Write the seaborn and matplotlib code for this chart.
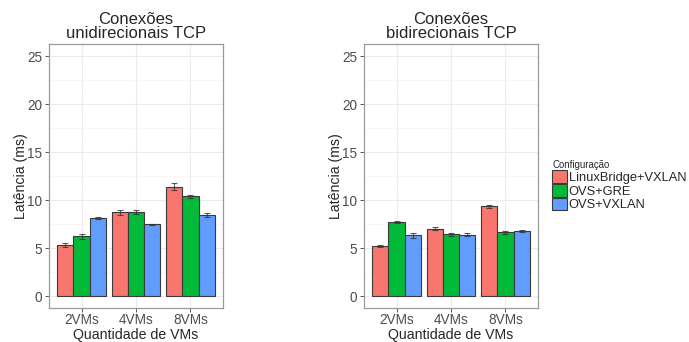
import matplotlib
matplotlib.use("Agg")
import matplotlib.pyplot as plt
from matplotlib.patches import Patch
from matplotlib.ticker import MultipleLocator
import seaborn as sns
import numpy as np
import pandas as pd

# data
vms = ["2VMs", "4VMs", "8VMs"]
configs = ["LinuxBridge+VXLAN", "OVS+GRE", "OVS+VXLAN"]
colors = ["#F8766D", "#00BA38", "#619CFF"]

uni_mean = {"LinuxBridge+VXLAN": [5.3, 8.7, 11.37],
            "OVS+GRE": [6.22, 8.72, 10.37],
            "OVS+VXLAN": [8.12, 7.45, 8.43]}
uni_err = {"LinuxBridge+VXLAN": [0.2, 0.3, 0.35],
           "OVS+GRE": [0.25, 0.2, 0.15],
           "OVS+VXLAN": [0.15, 0.1, 0.2]}

bi_mean = {"LinuxBridge+VXLAN": [5.23, 7.03, 9.33],
           "OVS+GRE": [7.72, 6.42, 6.63],
           "OVS+VXLAN": [6.33, 6.4, 6.76]}
bi_err = {"LinuxBridge+VXLAN": [0.1, 0.12, 0.18],
          "OVS+GRE": [0.12, 0.12, 0.12],
          "OVS+VXLAN": [0.25, 0.15, 0.07]}

titles = ["Conexões\nunidirecionais TCP", "Conexões\nbidirecionais TCP"]

sns.set_style("white")
plt.rcParams['font.family'] = ['Liberation Sans', 'DejaVu Sans']


def to_frame(means, errs):
    rows = []
    for c in configs:
        for v, m, e in zip(vms, means[c], errs[c]):
            rows.append({"vms": v, "config": c, "lat": m, "err": e})
    return pd.DataFrame(rows)


fig = plt.figure(figsize=(6.89, 3.42), dpi=100)
ax1 = fig.add_axes([49 / 689, 1 - 308 / 342, 174 / 689, 264 / 342])
ax2 = fig.add_axes([364 / 689, 1 - 308 / 342, 174 / 689, 264 / 342])

for ax, means, errs, title in [(ax1, uni_mean, uni_err, titles[0]),
                               (ax2, bi_mean, bi_err, titles[1])]:
    df = to_frame(means, errs)
    sns.barplot(data=df, x="vms", y="lat", hue="config", hue_order=configs,
                order=vms, palette=colors, saturation=1, width=0.9,
                errorbar=None, edgecolor="#3a3a3a", linewidth=0.8, ax=ax,
                zorder=2, legend=False)
    # error bars at the center of each bar
    for container, c in zip(ax.containers, configs):
        xs = [p.get_x() + p.get_width() / 2 for p in container]
        sub = df[df.config == c]
        ax.errorbar(xs, sub["lat"], yerr=sub["err"], fmt="none",
                    ecolor="#333333", elinewidth=0.8, capsize=2.2,
                    capthick=0.8, zorder=3, alpha=0.8)

    ax.set_xlim(-0.6, 2.6)
    ax.set_ylim(-1.25, 26.25)
    ax.yaxis.set_major_locator(MultipleLocator(5))
    ax.yaxis.set_minor_locator(MultipleLocator(2.5))
    ax.grid(True, which="major", color="#EBEBEB", lw=0.8, zorder=0)
    ax.grid(True, which="minor", axis="y", color="#F4F4F4", lw=0.5, zorder=0)
    ax.set_axisbelow(True)
    for s in ax.spines.values():
        s.set_color("#9A9A9A")
        s.set_linewidth(0.9)
    ax.tick_params(axis="both", which="major", length=3, width=0.7,
                   color="#555555", labelsize=9.8, labelcolor="#4D4D4D",
                   pad=2, bottom=True, left=True)
    ax.tick_params(axis="x", which="major", pad=0.5)
    ax.tick_params(axis="both", which="minor", length=0)
    ax.set_xlabel("Quantidade de VMs", fontsize=10.2, labelpad=0.5)
    ax.set_ylabel("Latência (ms)", fontsize=10.2, labelpad=-0.5)
    ax.set_title(title, fontsize=12, pad=4, linespacing=0.95)

handles = [Patch(facecolor=col, edgecolor="#3a3a3a", lw=0.8) for col in colors]
fig.legend(handles, configs, title="Configuração", loc="upper left",
           bbox_to_anchor=(543 / 689, 1 - 151 / 342), frameon=False,
           fontsize=9.3, title_fontsize=6.9, handlelength=1.15,
           handleheight=1.15, labelspacing=0.0, handletextpad=0.15,
           borderpad=0.2, alignment="left")

fig.savefig("out.png", dpi=100)
